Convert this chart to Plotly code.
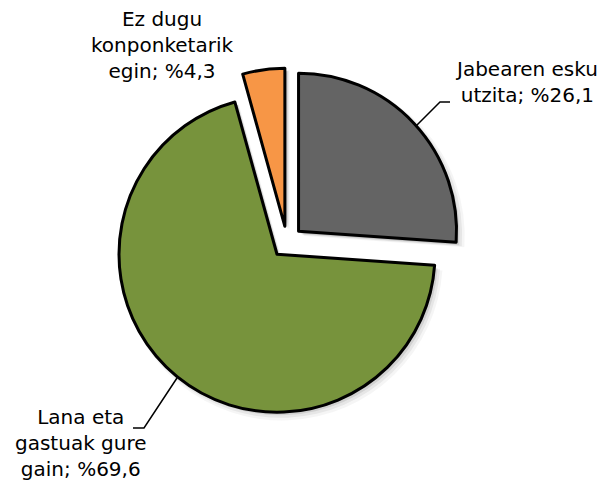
import plotly.graph_objects as go

# ---- data ----
categories = ["Jabearen esku utzita", "Lana eta gastuak gure gain", "Ez dugu konponketarik egin"]
label_text = ["Jabearen esku<br>utzita; %26,1", "Lana eta<br>gastuak gure<br>gain; %69,6",
              "Ez dugu<br>konponketarik<br>egin; %4,3"]
values = [26.1, 69.6, 4.3]
colors = ["#646464", "#77933C", "#F79646"]
pulls = [0.1, 0.1, 0.1]

# page has an 8px body margin; size the figure so it fits the 607x490 window
OFF = 8
W, H = 607 - 2 * OFF, 490 - 2 * OFF
CX, CY = 287 - OFF, 242 - OFF   # pie centre (figure px)
R = 158                         # radius in px
MAXPULL = max(pulls)


def dom(cx, cy, r):
    half = r * (1 + MAXPULL)
    return dict(x=[(cx - half) / W, (cx + half) / W],
                y=[1 - (cy + half) / H, 1 - (cy - half) / H])


fig = go.Figure()

# soft drop shadow built from stacked translucent copies of the same pie
for dx, dy, dr, a in [(5, 5, 3, 0.04), (4, 4, 1.5, 0.06), (3, 3, 0, 0.09), (2, 2, -1, 0.10)]:
    fig.add_trace(go.Pie(
        values=values, labels=categories, sort=False, direction="clockwise", rotation=0,
        pull=pulls, textinfo="none", hoverinfo="skip", showlegend=False,
        marker=dict(colors=[f"rgba(0,0,0,{a})"] * len(values), line=dict(width=0)),
        domain=dom(CX + dx, CY + dy, R + dr),
    ))

fig.add_trace(go.Pie(
    values=values, labels=categories, sort=False, direction="clockwise", rotation=0,
    pull=pulls, textinfo="none", showlegend=False,
    marker=dict(colors=colors, line=dict(color="black", width=3)),
    domain=dom(CX, CY, R),
))

font = dict(family="DejaVu Sans, Verdana, sans-serif", size=20, color="#000000")
label_pos = [(518, 74), (73, 435), (154, 37)]
for txt, (px, py) in zip(label_text, label_pos):
    fig.add_annotation(text=txt, x=px / W, y=1 - py / H, xref="paper", yref="paper",
                       xanchor="center", yanchor="middle", showarrow=False, font=font, align="center")


def path(pts):
    return "M " + " L ".join(f"{(x - OFF) / W},{1 - (y - OFF) / H}" for x, y in pts)


leaders = [[(416, 126), (440, 102), (450, 102)],
           [(177, 378), (144, 428), (133, 428)]]
for pts in leaders:
    fig.add_shape(type="path", xref="paper", yref="paper", path=path(pts),
                  line=dict(color="black", width=1.5))

fig.update_layout(width=W, height=H, margin=dict(l=0, r=0, t=0, b=0),
                  paper_bgcolor="white", plot_bgcolor="white")
fig.write_html("out.html")
